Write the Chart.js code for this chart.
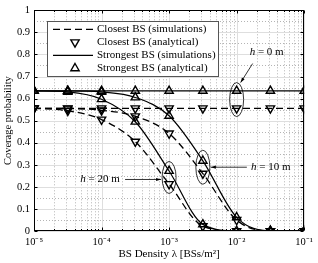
<!DOCTYPE html>
<html>
<head>
<meta charset="utf-8">
<script src="https://cdn.jsdelivr.net/npm/chart.js@4.4.0/dist/chart.umd.min.js"></script>
<style>
  html, body { margin: 0; padding: 0; background: #fff; }
  #wrap { width: 318px; height: 263px; }
</style>
</head>
<body>
<div id="wrap"><canvas id="coverage"></canvas></div>
<script>
// BS densities (log-spaced, half decades)
const densities = [1e-5, 3.162e-5, 1e-4, 3.162e-4, 1e-3, 3.162e-3, 1e-2, 3.162e-2, 1e-1];

// coverage probability
const closestH0 = [0.556, 0.556, 0.556, 0.556, 0.556, 0.556, 0.556, 0.556, 0.556];
const closestH10 = [0.556, 0.555, 0.547, 0.52, 0.442, 0.26, 0.05, 0, 0];
const closestH20 = [0.556, 0.545, 0.505, 0.405, 0.213, 0.022, 0, 0, 0];
const strongestH0 = [0.635, 0.635, 0.635, 0.635, 0.635, 0.635, 0.635, 0.635, 0.635];
const strongestH10 = [0.635, 0.635, 0.63, 0.605, 0.522, 0.318, 0.062, 0.001, 0];
const strongestH20 = [0.635, 0.63, 0.597, 0.495, 0.272, 0.03, 0, 0, 0];

const xTickPowers = [-5, -4, -3, -2, -1];
const yTickLabels = ["0", "0.1", "0.2", "0.3", "0.4", "0.5", "0.6", "0.7", "0.8", "0.9", "1"];
const legendLabels = [
  "Closest BS (simulations)",
  "Closest BS (analytical)",
  "Strongest BS (simulations)",
  "Strongest BS (analytical)",
];

const FONT = "'Liberation Serif', 'Times New Roman', serif";
const DASH = [7, 4];

const sup = (n) => String(n).split("").map((c) => ({ "-": "\u207B", "0": "\u2070", "1": "\u00B9", "2": "\u00B2", "3": "\u00B3", "4": "\u2074", "5": "\u2075" }[c] || c)).join("");

const pts = (vals) => densities.map((d, i) => ({ x: d, y: vals[i] }));

function simLine(vals, dashed) {
  return {
    data: pts(vals),
    borderColor: "#000",
    borderWidth: dashed ? 1.3 : 1.2,
    borderDash: dashed ? DASH : [],
    pointRadius: 0,
    cubicInterpolationMode: "monotone",
    fill: false,
  };
}
function marks(vals, down) {
  return {
    data: pts(vals),
    showLine: false,
    pointStyle: "triangle",
    rotation: down ? 180 : 0,
    pointRadius: 4.8,
    pointBorderWidth: 1.4,
    pointBorderColor: "#000",
    pointBackgroundColor: "rgba(0,0,0,0)",
  };
}

// grid, box and inward ticks (MATLAB style)
const frame = {
  id: "frame",
  beforeDatasetsDraw(chart) {
    const { ctx, chartArea: a, scales: { x, y } } = chart;
    ctx.save();
    ctx.lineWidth = 1;
    // minor grid (dotted)
    ctx.strokeStyle = "#b4b4b4";
    ctx.setLineDash([1, 2]);
    for (let e = -5; e < -1; e++) {
      for (let m = 2; m <= 9; m++) {
        const px = Math.round(x.getPixelForValue(m * Math.pow(10, e))) + 0.5;
        ctx.beginPath(); ctx.moveTo(px, a.top); ctx.lineTo(px, a.bottom); ctx.stroke();
      }
    }
    for (let v = 0.05; v < 1; v += 0.1) {
      const py = Math.round(y.getPixelForValue(v)) + 0.5;
      ctx.beginPath(); ctx.moveTo(a.left, py); ctx.lineTo(a.right, py); ctx.stroke();
    }
    // major grid
    ctx.setLineDash([]);
    ctx.strokeStyle = "#dedede";
    xTickPowers.forEach((p) => {
      const px = Math.round(x.getPixelForValue(Math.pow(10, p))) + 0.5;
      ctx.beginPath(); ctx.moveTo(px, a.top); ctx.lineTo(px, a.bottom); ctx.stroke();
    });
    yTickLabels.forEach((_, i) => {
      const py = Math.round(y.getPixelForValue(i / 10)) + 0.5;
      ctx.beginPath(); ctx.moveTo(a.left, py); ctx.lineTo(a.right, py); ctx.stroke();
    });
    ctx.restore();
  },
  afterDatasetsDraw(chart) {
    const { ctx, chartArea: a, scales: { x, y } } = chart;
    ctx.save();
    ctx.strokeStyle = "#000";
    ctx.lineWidth = 1;
    const L = Math.round(a.left) + 0.5, R = Math.round(a.right) - 0.5;
    const T = Math.round(a.top) + 0.5, B = Math.round(a.bottom) - 0.5;
    // ticks
    for (let e = -5; e <= -1; e++) {
      for (let m = 1; m <= (e === -1 ? 1 : 9); m++) {
        const px = Math.round(x.getPixelForValue(m * Math.pow(10, e))) + 0.5;
        const len = m === 1 ? 3 : 1.5;
        ctx.beginPath();
        ctx.moveTo(px, B); ctx.lineTo(px, B - len);
        ctx.moveTo(px, T); ctx.lineTo(px, T + len);
        ctx.stroke();
      }
    }
    yTickLabels.forEach((_, i) => {
      const py = Math.round(y.getPixelForValue(i / 10)) + 0.5;
      ctx.beginPath();
      ctx.moveTo(L, py); ctx.lineTo(L + 3, py);
      ctx.moveTo(R, py); ctx.lineTo(R - 3, py);
      ctx.stroke();
    });
    ctx.strokeRect(L, T, R - L, B - T);
    ctx.restore();
  },
};

function arrow(ctx, x0, y0, x1, y1) {
  const ang = Math.atan2(y1 - y0, x1 - x0);
  ctx.beginPath(); ctx.moveTo(x0, y0); ctx.lineTo(x1, y1); ctx.stroke();
  ctx.beginPath();
  ctx.moveTo(x1, y1);
  ctx.lineTo(x1 - 5 * Math.cos(ang) + 1.6 * Math.sin(ang), y1 - 5 * Math.sin(ang) - 1.6 * Math.cos(ang));
  ctx.lineTo(x1 - 5 * Math.cos(ang) - 1.6 * Math.sin(ang), y1 - 5 * Math.sin(ang) + 1.6 * Math.cos(ang));
  ctx.closePath(); ctx.fill();
}

function hLabel(ctx, text, cx, cy) {
  ctx.font = "italic 11px " + FONT;
  const wh = ctx.measureText("h").width;
  ctx.font = "11px " + FONT;
  const wr = ctx.measureText(text).width;
  let x0 = cx - (wh + wr) / 2;
  ctx.textBaseline = "middle";
  ctx.textAlign = "left";
  ctx.font = "italic 11px " + FONT;
  ctx.fillText("h", x0, cy);
  ctx.font = "11px " + FONT;
  ctx.fillText(text, x0 + wh, cy);
}

// ellipses + arrows marking the heights
const notes = {
  id: "notes",
  afterDatasetsDraw(chart) {
    const { ctx, scales: { x, y } } = chart;
    ctx.save();
    ctx.strokeStyle = "#000";
    ctx.fillStyle = "#000";
    ctx.lineWidth = 0.8;

    // h = 0 m at 1e-2
    let ex = x.getPixelForValue(densities[6]);
    let ey = (y.getPixelForValue(strongestH0[6]) + y.getPixelForValue(closestH0[6])) / 2;
    ctx.beginPath(); ctx.ellipse(ex, ey, 7, 17, 0, 0, 2 * Math.PI); ctx.stroke();
    arrow(ctx, ex + 16, ey - 36, ex + 4, ey - 17);
    hLabel(ctx, " = 0 m", ex + 30, ey - 47);

    // h = 10 m at 10^-2.5
    ex = x.getPixelForValue(densities[5]);
    ey = (y.getPixelForValue(strongestH10[5]) + y.getPixelForValue(closestH10[5])) / 2;
    ctx.beginPath(); ctx.ellipse(ex, ey, 7, 17, 0, 0, 2 * Math.PI); ctx.stroke();
    arrow(ctx, ex + 44, ey, ex + 8, ey);
    hLabel(ctx, " = 10 m", ex + 68, ey);

    // h = 20 m at 1e-3
    ex = x.getPixelForValue(densities[4]);
    ey = (y.getPixelForValue(strongestH20[4]) + y.getPixelForValue(closestH20[4])) / 2;
    ctx.beginPath(); ctx.ellipse(ex, ey, 7, 16, 0, 0, 2 * Math.PI); ctx.stroke();
    arrow(ctx, ex - 44, ey + 2, ex - 8, ey + 2);
    hLabel(ctx, " = 20 m", ex - 69, ey + 2);
    ctx.restore();
  },
};

// legend box inside the axes, upper left
const boxLegend = {
  id: "boxLegend",
  afterDraw(chart) {
    const { ctx, chartArea: a } = chart;
    const bx = a.left + 13, by = a.top + 11, bw = 171, bh = 55;
    ctx.save();
    ctx.fillStyle = "#fff";
    ctx.fillRect(bx, by, bw, bh);
    ctx.strokeStyle = "#555";
    ctx.lineWidth = 1;
    ctx.strokeRect(Math.round(bx) + 0.5, Math.round(by) + 0.5, bw, bh);
    ctx.font = "11px " + FONT;
    ctx.fillStyle = "#000";
    ctx.textBaseline = "middle";
    legendLabels.forEach((label, i) => {
      const ry = by + 8 + i * 13;
      const lx0 = bx + 6, lx1 = bx + 46, mx = bx + 28;
      ctx.strokeStyle = "#000";
      if (i % 2 === 0) {
        ctx.lineWidth = i === 0 ? 1.3 : 1.2;
        ctx.setLineDash(i === 0 ? DASH : []);
        ctx.beginPath(); ctx.moveTo(lx0, ry); ctx.lineTo(lx1, ry); ctx.stroke();
        ctx.setLineDash([]);
      } else {
        ctx.lineWidth = 1.4;
        const r = 4.8, s = i === 1 ? -1 : 1;
        ctx.beginPath();
        ctx.moveTo(mx, ry - s * r);
        ctx.lineTo(mx + r * 0.866, ry + s * r / 2);
        ctx.lineTo(mx - r * 0.866, ry + s * r / 2);
        ctx.closePath(); ctx.stroke();
      }
      ctx.fillText(label, bx + 50, ry);
    });
    ctx.restore();
  },
};

new Chart(document.getElementById("coverage"), {
  type: "line",
  data: {
    datasets: [
      simLine(closestH0, true),
      simLine(closestH10, true),
      simLine(closestH20, true),
      simLine(strongestH0, false),
      simLine(strongestH10, false),
      simLine(strongestH20, false),
      marks(closestH0, true),
      marks(closestH10, true),
      marks(closestH20, true),
      marks(strongestH0, false),
      marks(strongestH10, false),
      marks(strongestH20, false),
    ],
  },
  options: {
    responsive: true,
    maintainAspectRatio: false,
    animation: false,
    devicePixelRatio: 1,
    layout: { padding: { left: 0, right: 10, top: 7, bottom: 0 } },
    plugins: { legend: { display: false }, tooltip: { enabled: false } },
    scales: {
      x: {
        type: "logarithmic",
        min: 1e-5,
        max: 1e-1,
        afterFit: (s) => { s.height = 32; },
        grid: { display: false, drawTicks: false },
        border: { display: false },
        ticks: {
          autoSkip: false,
          maxRotation: 0,
          padding: 5,
          color: "#000",
          font: { family: FONT, size: 10.5 },
          callback: (v) => {
            const e = Math.round(Math.log10(v));
            return xTickPowers.includes(e) && Math.abs(Math.log10(v) - e) < 1e-6 ? "10" + sup(e) : "";
          },
        },
        title: {
          display: true,
          text: "BS Density \u03BB [BSs/m\u00B2]",
          color: "#000",
          font: { family: FONT, size: 11 },
          padding: { top: 0, bottom: 2 },
        },
      },
      y: {
        min: 0,
        max: 1,
        afterFit: (s) => { s.width = 34; },
        grid: { display: false, drawTicks: false },
        border: { display: false },
        ticks: {
          stepSize: 0.1,
          padding: 4,
          color: "#000",
          font: { family: FONT, size: 10.5 },
          callback: (v) => yTickLabels[Math.round(v * 10)],
        },
        title: {
          display: true,
          text: "Coverage probability",
          color: "#000",
          font: { family: FONT, size: 10.5 },
          padding: { top: 2, bottom: 0 },
        },
      },
    },
  },
  plugins: [frame, notes, boxLegend],
});
</script>
</body>
</html>
